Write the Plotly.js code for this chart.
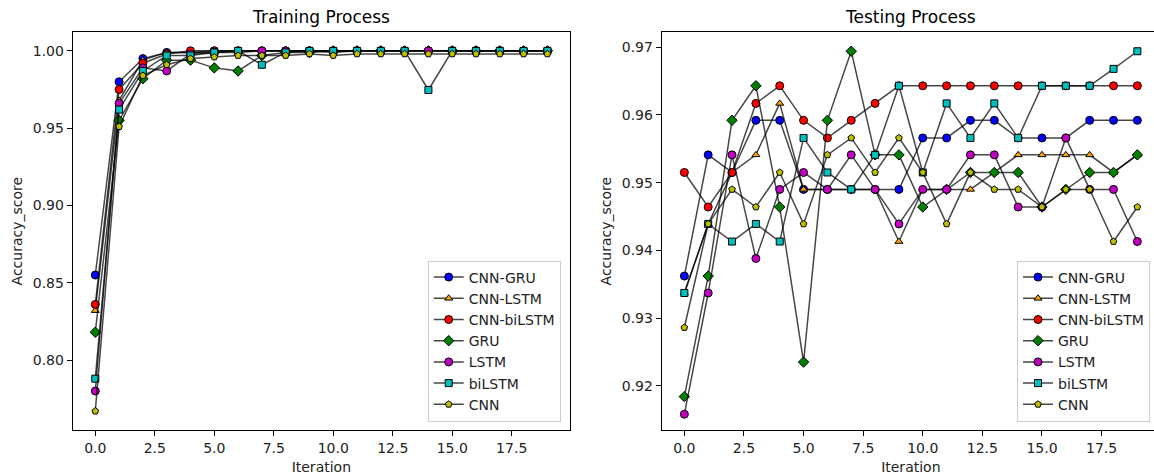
<!DOCTYPE html>
<html><head><meta charset="utf-8">
<script src="https://cdn.plot.ly/plotly-3.0.1.min.js"></script>
<style>html,body{margin:0;padding:0;overflow:hidden;background:#fff}#chart{width:1162px;height:475px}</style>
</head><body><div id="chart"></div>
<script>
const iterations = [0,1,2,3,4,5,6,7,8,9,10,11,12,13,14,15,16,17,18,19];
const seriesNames = ["CNN-GRU","CNN-LSTM","CNN-biLSTM","GRU","LSTM","biLSTM","CNN"];

// Training accuracy
const trainCnnGru    = [0.855,0.980,0.995,0.999,0.999,1.000,1.000,1.000,1.000,1.000,1.000,1.000,1.000,1.000,1.000,1.000,1.000,1.000,1.000,1.000];
const trainCnnLstm   = [0.832,0.968,0.994,0.999,0.999,0.999,1.000,1.000,1.000,1.000,1.000,1.000,1.000,1.000,1.000,1.000,1.000,1.000,1.000,1.000];
const trainCnnBiLstm = [0.836,0.975,0.992,0.998,1.000,1.000,1.000,1.000,1.000,1.000,1.000,1.000,1.000,1.000,1.000,1.000,1.000,1.000,1.000,1.000];
const trainGru       = [0.818,0.955,0.982,0.994,0.994,0.989,0.987,0.997,0.999,0.999,1.000,1.000,1.000,1.000,1.000,1.000,1.000,1.000,1.000,1.000];
const trainLstm      = [0.780,0.966,0.989,0.987,0.998,0.999,0.999,1.000,1.000,1.000,0.999,1.000,1.000,1.000,1.000,1.000,1.000,1.000,1.000,1.000];
const trainBiLstm    = [0.788,0.962,0.987,0.997,0.997,0.999,1.000,0.991,0.999,1.000,1.000,1.000,1.000,1.000,0.9747,1.000,1.000,1.000,1.000,1.000];
const trainCnn       = [0.767,0.951,0.984,0.991,0.995,0.996,0.997,0.997,0.997,0.998,0.997,0.998,0.998,0.998,0.998,0.998,0.998,0.998,0.998,0.998];

// Testing accuracy
const testCnnGru    = [0.9362,0.9541,0.9515,0.9592,0.9592,0.9490,0.9490,0.9490,0.9490,0.9490,0.9566,0.9566,0.9592,0.9592,0.9566,0.9566,0.9566,0.9592,0.9592,0.9592];
const testCnnLstm   = [0.9337,0.9439,0.9515,0.9541,0.9617,0.9490,0.9490,0.9490,0.9490,0.9413,0.9490,0.9490,0.9490,0.9515,0.9541,0.9541,0.9541,0.9541,0.9515,0.9541];
const testCnnBiLstm = [0.9515,0.9464,0.9515,0.9617,0.9643,0.9592,0.9566,0.9592,0.9617,0.9643,0.9643,0.9643,0.9643,0.9643,0.9643,0.9643,0.9643,0.9643,0.9643,0.9643];
const testGru       = [0.9184,0.9362,0.9592,0.9643,0.9464,0.9235,0.9592,0.9694,0.9541,0.9541,0.9464,0.9490,0.9515,0.9515,0.9515,0.9464,0.9490,0.9515,0.9515,0.9541];
const testLstm      = [0.9158,0.9337,0.9541,0.9388,0.9490,0.9515,0.9490,0.9541,0.9490,0.9439,0.9490,0.9490,0.9541,0.9541,0.9464,0.9464,0.9566,0.9490,0.9490,0.9413];
const testBiLstm    = [0.9337,0.9439,0.9413,0.9439,0.9413,0.9566,0.9515,0.9490,0.9541,0.9643,0.9515,0.9617,0.9566,0.9617,0.9566,0.9643,0.9643,0.9643,0.9668,0.9694];
const testCnn       = [0.9286,0.9439,0.9490,0.9464,0.9515,0.9439,0.9541,0.9566,0.9515,0.9566,0.9515,0.9439,0.9515,0.9490,0.9490,0.9464,0.9490,0.9490,0.9413,0.9464];

const trainSeries = [trainCnnGru,trainCnnLstm,trainCnnBiLstm,trainGru,trainLstm,trainBiLstm,trainCnn];
const testSeries  = [testCnnGru,testCnnLstm,testCnnBiLstm,testGru,testLstm,testBiLstm,testCnn];

const colors  = ["#0000ff","#ffa500","#ff0000","#008000","#bf00bf","#00bfbf","#bfbf00"];
const symbols = ["circle","triangle-up","circle","diamond","circle","square","pentagon"];
const sizes   = [8,7,8,8,8,7,7];

const traces = [];
function addSet(series, xa, ya, legendId){
  series.forEach((vals,k)=>{
    traces.push({
      x: iterations, y: vals, type:"scatter", mode:"lines+markers",
      name: seriesNames[k], xaxis: xa, yaxis: ya, legend: legendId,
      line: {color:"rgba(0,0,0,0.72)", width:1.5},
      marker: {color: colors[k], symbol: symbols[k], size: sizes[k], line:{color:"#000", width:1}}
    });
  });
}
addSet(trainSeries,"x","y","legend");
addSet(testSeries,"x2","y2","legend2");

const W = 1162, H = 475;
const font = {family:"DejaVu Sans, sans-serif", size:14, color:"#000"};
const axisCommon = {showline:true, mirror:true, linecolor:"#000", linewidth:1, ticks:"outside", ticklen:5, tickwidth:1, tickcolor:"#000", showgrid:false, zeroline:false, tickfont:{family:"DejaVu Sans", size:14, color:"#222"}};
const yDom = [1-430/H, 1-32.3/H];
const legendCommon = {bgcolor:"rgba(255,255,255,0.8)", bordercolor:"#cccccc", borderwidth:1, font:{family:"DejaVu Sans", size:14, color:"#222"}, xanchor:"left", yanchor:"top"};

const layout = {
  width: W, height: H, margin:{l:0,r:0,t:0,b:0}, paper_bgcolor:"#fff", plot_bgcolor:"#fff",
  font: font, showlegend:true,
  xaxis: Object.assign({}, axisCommon, {domain:[72.7/W, 570/W], range:[-0.95,19.95], dtick:2.5, tick0:0, tickformat:".1f", anchor:"y",
    title:{text:"Iteration", font:{family:"DejaVu Sans", size:14, color:"#222"}, standoff:7}}),
  yaxis: Object.assign({}, axisCommon, {domain:yDom, range:[0.7548,1.0120], dtick:0.05, tick0:0.8, tickformat:".2f", anchor:"x",
    title:{text:"Accuracy_score", font:{family:"DejaVu Sans", size:14, color:"#222"}, standoff:6}}),
  xaxis2: Object.assign({}, axisCommon, {domain:[661.7/W, 1160/W], range:[-0.95,19.95], dtick:2.5, tick0:0, tickformat:".1f", anchor:"y2",
    title:{text:"Iteration", font:{family:"DejaVu Sans", size:14, color:"#222"}, standoff:7}}),
  yaxis2: Object.assign({}, axisCommon, {domain:yDom, range:[0.91347,0.9722], dtick:0.01, tick0:0.92, tickformat:".2f", anchor:"x2",
    title:{text:"Accuracy_score", font:{family:"DejaVu Sans", size:14, color:"#222"}, standoff:6}}),
  legend: Object.assign({}, legendCommon, {x:427.7/W, y:1-260.5/H}),
  legend2: Object.assign({}, legendCommon, {x:1017/W, y:1-260.5/H}),
  annotations: [
    {text:"Training Process", xref:"paper", yref:"paper", x:(72.7+570)/2/W, y:1-17/H, xanchor:"center", yanchor:"middle", showarrow:false, font:{family:"DejaVu Sans", size:17, color:"#000"}},
    {text:"Testing Process", xref:"paper", yref:"paper", x:(661.7+1160)/2/W, y:1-17/H, xanchor:"center", yanchor:"middle", showarrow:false, font:{family:"DejaVu Sans", size:17, color:"#000"}}
  ]
};
Plotly.newPlot("chart", traces, layout, {displayModeBar:false, staticPlot:true});
</script></body></html>
